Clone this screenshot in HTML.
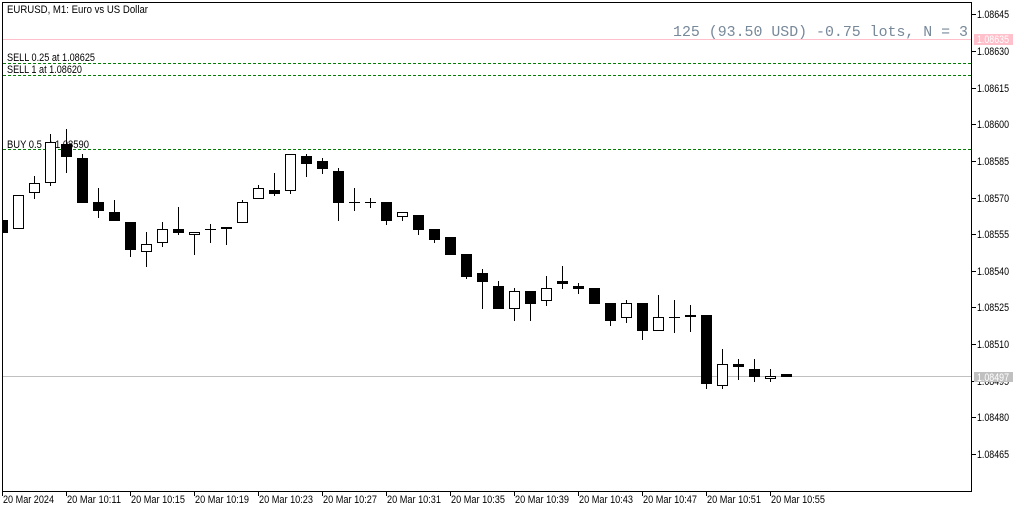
<!DOCTYPE html>
<html><head><meta charset="utf-8"><style>
html,body{margin:0;padding:0;background:#fff;}
svg{display:block;}
text{font-family:"Liberation Sans",sans-serif;font-size:11px;fill:#000;}
</style></head><body>
<svg width="1024" height="512" viewBox="0 0 1024 512" xmlns="http://www.w3.org/2000/svg" shape-rendering="crispEdges">
<rect x="0" y="0" width="1024" height="512" fill="#fff"/>
<defs><clipPath id="c"><rect x="3" y="3" width="968" height="488"/></clipPath></defs>

<!-- horizontal lines -->
<line x1="3" y1="39.5" x2="971" y2="39.5" stroke="#ffc0cb" stroke-width="1"/>
<line x1="3" y1="376.5" x2="971" y2="376.5" stroke="#c0c0c0" stroke-width="1"/>
<g stroke="#008000" stroke-width="1" stroke-dasharray="3,2">
<line x1="3" y1="63.5" x2="971" y2="63.5"/>
<line x1="3" y1="75.5" x2="971" y2="75.5"/>
<line x1="3" y1="149.5" x2="971" y2="149.5"/>
</g>

<text x="7" y="13" textLength="141" lengthAdjust="spacingAndGlyphs">EURUSD, M1:  Euro vs US Dollar</text>
<text x="7" y="61" textLength="88" lengthAdjust="spacingAndGlyphs">SELL 0.25 at 1.08625</text>
<text x="7" y="73" textLength="75" lengthAdjust="spacingAndGlyphs">SELL 1 at 1.08620</text>
<text x="7" y="148" textLength="82" lengthAdjust="spacingAndGlyphs">BUY 0.5 at 1.08590</text>

<text x="968" y="36" text-anchor="end" style="font-family:'Liberation Mono',monospace;font-size:15px;fill:#778899" textLength="295" lengthAdjust="spacingAndGlyphs">125 (93.50 USD) -0.75 lots, N = 3</text>

<g id="candles" clip-path="url(#c)"></g>

<!-- frame -->
<rect x="2.5" y="2.5" width="969" height="489" fill="none" stroke="#000" stroke-width="1"/>

<g id="yaxis"></g>
<g id="xaxis"></g>
</svg>
<script>
var ns="http://www.w3.org/2000/svg";
function el(p,t,a,txt){var e=document.createElementNS(ns,t);for(var k in a)e.setAttribute(k,a[k]);if(txt!==undefined)e.textContent=txt;p.appendChild(e);return e;}
var C=[
[2,'b',220,233],[18,'w',195,229],[34,'w',183,193,176,199],[50,'w',142,183,134,186],
[66,'b',144,157,129,173],[82,'b',158,203,154,203],[98,'b',202,211,188,218],[114,'b',212,221,200,221],
[130,'b',222,250,222,257],[146,'w',244,252,232,267],[162,'w',229,243,222,247],[178,'b',229,233,207,235],
[194,'w',232,235,232,255],[210,'x',229,229,224,243],[226,'w',227,229,227,245],[242,'w',202,223,200,223],
[258,'w',188,199,185,199],[274,'b',190,194,173,196],[290,'w',154,191,154,194],[306,'b',156,164,154,177],
[322,'b',161,169,158,174],[338,'b',171,203,168,221],[354,'x',202,202,188,211],[370,'x',202,202,198,208],
[386,'b',202,221,202,225],[402,'w',212,217,212,221],[418,'b',215,230,215,235],[434,'b',229,240,229,243],
[450,'b',237,255],[466,'b',254,277,254,279],[482,'b',273,282,269,309],[498,'b',286,309,281,309],
[514,'w',291,309,288,321],[530,'b',291,304,291,321],[546,'w',288,301,276,306],[562,'b',281,284,266,289],
[578,'b',286,289,283,294],[594,'b',288,304],[610,'b',303,321,303,326],[626,'w',303,318,300,323],
[642,'b',303,331,303,340],[658,'w',317,331,295,331],[674,'x',317,317,300,333],[690,'w',315,317,305,332],
[706,'b',315,384,315,389],[722,'w',364,386,349,389],[738,'b',364,367,359,380],[754,'b',369,377,359,382],
[770,'w',376,379,369,382],[786,'b',374,377]
];
var g=document.getElementById('candles');
C.forEach(function(d){
 var c=d[0],k=d[1],t=d[2],b=d[3],h=d.length>4?d[4]:t,l=d.length>4?d[5]:b;
 if(h<l) el(g,'line',{x1:c+0.5,y1:h,x2:c+0.5,y2:l,stroke:'#000','stroke-width':1});
 if(k==='b'){el(g,'rect',{x:c-5,y:t,width:11,height:Math.max(1,b-t),fill:'#000'});}
 else if(k==='w'){el(g,'rect',{x:c-4.5,y:t+0.5,width:10,height:Math.max(1,b-t-1),fill:'#fff',stroke:'#000','stroke-width':1});}
 else {el(g,'line',{x1:c-5,y1:t+0.5,x2:c+6,y2:t+0.5,stroke:'#000','stroke-width':1});}
});
var ya=document.getElementById('yaxis');
var prices=['1.08645','1.08630','1.08615','1.08600','1.08585','1.08570','1.08555','1.08540','1.08525','1.08510','1.08495','1.08480','1.08465'];
prices.forEach(function(p,i){
 var y=Math.round(14.3+i*15*2.443);
 el(ya,'line',{x1:971,y1:y+0.5,x2:976,y2:y+0.5,stroke:'#000','stroke-width':1});
 el(ya,'text',{x:977,y:y+4,textLength:32,lengthAdjust:'spacingAndGlyphs'},p);
});
el(ya,'rect',{x:974,y:34,width:39,height:11,fill:'#ffc0cb'});
el(ya,'text',{x:977,y:43,textLength:32,lengthAdjust:'spacingAndGlyphs',style:'fill:#fff'},'1.08635');
el(ya,'rect',{x:974,y:372,width:39,height:10,fill:'#c0c0c0'});
el(ya,'text',{x:977,y:381,textLength:32,lengthAdjust:'spacingAndGlyphs',style:'fill:#fff'},'1.08497');
var xa=document.getElementById('xaxis');
var times=['20 Mar 2024','20 Mar 10:11','20 Mar 10:15','20 Mar 10:19','20 Mar 10:23','20 Mar 10:27','20 Mar 10:31','20 Mar 10:35','20 Mar 10:39','20 Mar 10:43','20 Mar 10:47','20 Mar 10:51','20 Mar 10:55'];
times.forEach(function(t,i){
 var x=2+i*64;
 el(xa,'line',{x1:x+0.5,y1:491,x2:x+0.5,y2:496,stroke:'#000','stroke-width':1});
 el(xa,'text',{x:x+1,y:503,textLength:(i===0?51:54),lengthAdjust:'spacingAndGlyphs'},t);
});
</script>
</body></html>
